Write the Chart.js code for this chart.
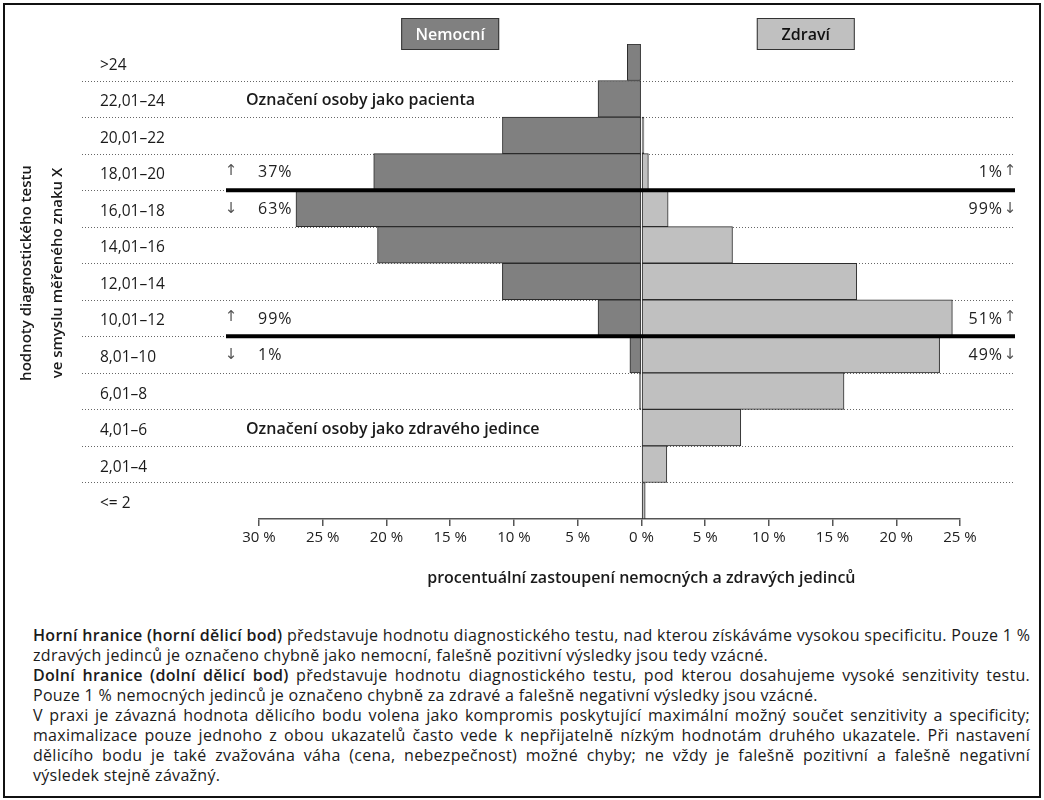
<!DOCTYPE html>
<html lang="cs">
<head>
<meta charset="utf-8">
<title>Nemocní a zdraví</title>
<script src="https://cdn.jsdelivr.net/npm/chart.js@4.4.1/dist/chart.umd.min.js"></script>
<style>
body { margin: 0; background: #fff; font-family: "Open Sans", sans-serif; color: #1a1a1a; }
#frame { position: absolute; left: 3px; top: 3px; width: 1034px; height: 791px; border: 2px solid #111; }
#chartBox { position: absolute; left: 0; top: 0; width: 1044px; height: 600px; }
#note { position: absolute; left: 33px; top: 625px; width: 997px; font-size: 16px; line-height: 20px; letter-spacing: 0.3px; }
#note div { white-space: nowrap; }
#note .j { text-align: justify; text-align-last: justify; }
#note b { font-weight: 600; }
</style>
</head>
<body>
<div id="frame"></div>
<div id="chartBox"><canvas id="pyramidChart" width="1044" height="600"></canvas></div>
<div id="note">
  <div class="j"><b>Horní hranice (horní dělicí bod)</b> představuje hodnotu diagnostického testu, nad kterou získáváme vysokou specificitu. Pouze 1 %</div>
  <div>zdravých jedinců je označeno chybně jako nemocní, falešně pozitivní výsledky jsou tedy vzácné.</div>
  <div class="j"><b>Dolní hranice (dolní dělicí bod)</b> představuje hodnotu diagnostického testu, pod kterou dosahujeme vysoké senzitivity testu.</div>
  <div>Pouze 1 % nemocných jedinců je označeno chybně za zdravé a falešně negativní výsledky jsou vzácné.</div>
  <div class="j">V praxi je závazná hodnota dělicího bodu volena jako kompromis poskytující maximální možný součet senzitivity a specificity;</div>
  <div class="j">maximalizace pouze jednoho z obou ukazatelů často vede k nepřijatelně nízkým hodnotám druhého ukazatele. Při nastavení</div>
  <div class="j">dělicího bodu je také zvažována váha (cena, nebezpečnost) možné chyby; ne vždy je falešně pozitivní a falešně negativní</div>
  <div>výsledek stejně závažný.</div>
</div>
<script>
// hodnoty testu (shora dolu)
var categories = ['>24', '22,01–24', '20,01–22', '18,01–20', '16,01–18', '14,01–16', '12,01–14',
                  '10,01–12', '8,01–10', '6,01–8', '4,01–6', '2,01–4', '<= 2'];
// procento nemocnych / zdravych v kazde skupine
var sick    = [1.1, 3.4, 10.9, 21.0, 27.1, 20.7, 10.9, 3.4, 0.9, 0.15, 0, 0, 0];
var healthy = [0, 0, 0.2, 0.55, 2.1, 7.15, 16.9, 24.4, 23.4, 15.9, 7.8, 2.0, 0.3];
var percentTicks = [-30, -25, -20, -15, -10, -5, 0, 5, 10, 15, 20, 25];

// delici body - cara lezi pod uvedenou skupinou
var cutAfter     = ['18,01–20', '10,01–12'];
var sickAbove    = ['37%', '99%'];
var sickBelow    = ['63%', '1%'];
var healthyAbove = ['1%', '51%'];
var healthyBelow = ['99%', '49%'];
var zoneRows  = ['22,01–24', '4,01–6'];
var zoneTexts = ['Označení osoby jako pacienta', 'Označení osoby jako zdravého jedince'];

var FONT = '"Open Sans", sans-serif';

var decor = {
    id: 'decor',
    beforeDatasetsDraw: function (chart) {
        var ctx = chart.ctx, y = chart.scales.y;
        ctx.save();
        ctx.strokeStyle = '#666';
        ctx.lineWidth = 1;
        ctx.setLineDash([1, 2]);
        for (var i = 0; i < categories.length - 1; i++) {
            var yy = Math.round((y.getPixelForValue(i) + y.getPixelForValue(i + 1)) / 2) + 0.5;
            ctx.beginPath();
            ctx.moveTo(82, yy);
            ctx.lineTo(1015, yy);
            ctx.stroke();
        }
        ctx.restore();
    },
    afterDatasetsDraw: function (chart) {
        var ctx = chart.ctx, x = chart.scales.x, y = chart.scales.y;
        var area = chart.chartArea;
        ctx.save();

        // delici cary
        ctx.strokeStyle = '#000';
        ctx.lineWidth = 4;
        cutAfter.forEach(function (row, k) {
            var i = categories.indexOf(row);
            var rowTop = y.getPixelForValue(i) + 1, rowBottom = y.getPixelForValue(i + 1) + 1;
            var yy = (y.getPixelForValue(i) + y.getPixelForValue(i + 1)) / 2;
            ctx.beginPath();
            ctx.moveTo(226, yy);
            ctx.lineTo(1015, yy);
            ctx.stroke();

            ctx.textBaseline = 'middle';
            ctx.fillStyle = '#555';
            ctx.font = '15px "DejaVu Sans", sans-serif';
            ctx.textAlign = 'center';
            ctx.fillText('↑', 231, rowTop - 2);
            ctx.fillText('↓', 231, rowBottom);
            ctx.fillText('↑', 1010, rowTop - 2);
            ctx.fillText('↓', 1010, rowBottom);

            ctx.fillStyle = '#222';
            ctx.font = '16px ' + FONT;
            ctx.letterSpacing = '1px';
            ctx.textAlign = 'left';
            ctx.fillText(sickAbove[k], area.left - 1, rowTop);
            ctx.fillText(sickBelow[k], area.left - 1, rowBottom);
            ctx.textAlign = 'right';
            ctx.fillText(healthyAbove[k], 1003, rowTop);
            ctx.fillText(healthyBelow[k], 1003, rowBottom);
            ctx.letterSpacing = '0px';
        });

        // oznaceni zon
        ctx.fillStyle = '#1a1a1a';
        ctx.font = '600 16px ' + FONT;
        ctx.textAlign = 'left';
        ctx.textBaseline = 'middle';
        zoneRows.forEach(function (row, k) {
            ctx.fillText(zoneTexts[k], 246, y.getPixelForValue(categories.indexOf(row)) + 2);
        });

        // legenda
        var legendCenters = [-15, 12.9];
        chart.data.datasets.forEach(function (ds, k) {
            var cx = x.getPixelForValue(legendCenters[k]);
            ctx.fillStyle = ds.backgroundColor;
            ctx.fillRect(cx - 49, 18, 98, 32);
            ctx.strokeStyle = '#333';
            ctx.lineWidth = 1;
            ctx.strokeRect(cx - 49 + 0.5, 18.5, 97, 31);
            ctx.fillStyle = k === 0 ? '#fff' : '#111';
            ctx.font = '600 16px ' + FONT;
            ctx.textAlign = 'center';
            ctx.fillText(ds.label, cx, 35);
        });

        // popisy os
        ctx.fillStyle = '#1a1a1a';
        ctx.font = '600 16px ' + FONT;
        ctx.textAlign = 'center';
        ctx.fillText('procentuální zastoupení nemocných a zdravých jedinců', x.getPixelForValue(0), 578);
        ctx.font = '600 15px ' + FONT;
        ctx.translate(0, 273);
        ctx.rotate(-Math.PI / 2);
        ctx.fillText('hodnoty diagnostického testu', 0, 27);
        ctx.fillText('ve smyslu měřeného znaku X', 0, 58);
        ctx.restore();
    }
};

var ctx = document.getElementById('pyramidChart');

var pyramidChart = new Chart(ctx, {
    type: 'bar',
    data: {
        labels: categories,
        datasets: [
            {
                label: 'Nemocní',
                data: sick.map(function (v) { return -v; }),
                backgroundColor: '#808080',
                borderColor: '#2b2b2b',
                borderWidth: 1,
                borderSkipped: false
            },
            {
                label: 'Zdraví',
                data: healthy,
                backgroundColor: '#c0c0c0',
                borderColor: '#2b2b2b',
                borderWidth: 1,
                borderSkipped: false
            }
        ]
    },
    options: {
        responsive: false,
        animation: false,
        indexAxis: 'y',
        categoryPercentage: 1,
        barPercentage: 1,
        layout: { padding: { left: 100, right: 84, top: 44, bottom: 0 } },
        plugins: {
            legend: { display: false },
            tooltip: { enabled: false }
        },
        scales: {
            x: {
                stacked: true,
                min: -30,
                max: 25,
                afterBuildTicks: function (scale) {
                    scale.ticks = percentTicks.map(function (v) { return { value: v }; });
                },
                afterFit: function (scale) { scale.height = 81; },
                grid: { drawOnChartArea: false, drawTicks: true, tickLength: 7, color: '#555', lineWidth: 1.5 },
                border: { color: '#555', width: 1.5 },
                ticks: {
                    padding: 3,
                    color: '#222',
                    font: { family: FONT, size: 15 },
                    maxRotation: 0,
                    callback: function (v) { return Math.abs(v) + ' %'; }
                }
            },
            y: {
                stacked: true,
                afterFit: function (scale) { scale.width = 159; },
                grid: { display: false },
                border: { display: false },
                ticks: {
                    crossAlign: 'far',
                    padding: 0,
                    labelOffset: 3,
                    color: '#1a1a1a',
                    font: { family: FONT, size: 15.5 }
                }
            }
        }
    },
    plugins: [decor]
});
</script>
</body>
</html>
